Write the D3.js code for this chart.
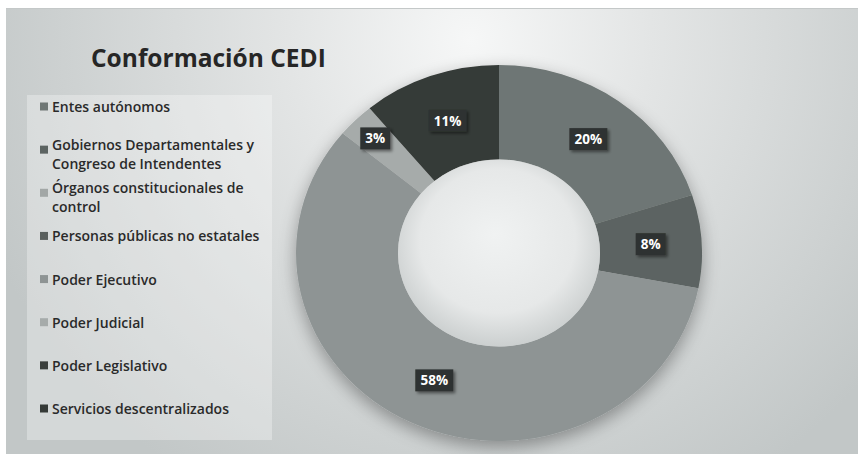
<!DOCTYPE html>
<html>
<head>
<meta charset="utf-8">
<script src="https://cdn.jsdelivr.net/npm/d3@7"></script>
<style>
  body { margin: 0; background: #fff; }
  svg text { font-family: "Open Sans", Lato, sans-serif; }
</style>
</head>
<body>
<svg id="chart" width="858" height="454"></svg>
<script>
// data (clockwise from 12 o'clock)
const categories = [
  "Entes autónomos",
  "Gobiernos Departamentales y|Congreso de Intendentes",
  "Órganos constitucionales de|control",
  "Personas públicas no estatales",
  "Poder Ejecutivo",
  "Poder Judicial",
  "Poder Legislativo",
  "Servicios descentralizados"
];
const shares = [20, 8, 0, 0, 58, 3, 0, 11];
const sliceColors = ["#6e7674", "#5c6462", "#a2a7a6", "#5a605e", "#8e9494", "#a6abaa", "#3a3f3c", "#353a37"];
const chartTitle = "Conformación CEDI";

var svg = d3.select("#chart");
const width = +svg.attr("width");
const height = +svg.attr("height");

// donut geometry (picture is slightly squashed vertically)
const cx = 499, cy = 253;
const rOuter = 203, rInner = 101;
const ySquash = 188 / 203;

var defs = svg.append("defs");

var bg = defs.append("radialGradient").attr("id", "bgGrad")
    .attr("gradientUnits", "userSpaceOnUse")
    .attr("cx", 470).attr("cy", 40).attr("r", 520);
bg.append("stop").attr("offset", "0%").attr("stop-color", "#f6f7f7");
bg.append("stop").attr("offset", "35%").attr("stop-color", "#e3e5e5");
bg.append("stop").attr("offset", "100%").attr("stop-color", "#c2c7c7");

var hole = defs.append("radialGradient").attr("id", "holeGrad")
    .attr("cx", "50%").attr("cy", "45%").attr("r", "55%")
    .attr("fx", "48%").attr("fy", "40%");
hole.append("stop").attr("offset", "0%").attr("stop-color", "#f0f2f2");
hole.append("stop").attr("offset", "70%").attr("stop-color", "#e6e8e8");
hole.append("stop").attr("offset", "100%").attr("stop-color", "#cbcfcf");

var shadow = defs.append("filter").attr("id", "donutShadow")
    .attr("x", "-20%").attr("y", "-20%").attr("width", "140%").attr("height", "140%");
shadow.append("feGaussianBlur").attr("in", "SourceAlpha").attr("stdDeviation", 9);
shadow.append("feOffset").attr("dx", 0).attr("dy", 6).attr("result", "blur");
shadow.append("feComponentTransfer").append("feFuncA").attr("type", "linear").attr("slope", 0.35);
var merge = shadow.append("feMerge");
merge.append("feMergeNode");
merge.append("feMergeNode").attr("in", "SourceGraphic");

var boxShadow = defs.append("filter").attr("id", "boxShadow")
    .attr("x", "-30%").attr("y", "-30%").attr("width", "170%").attr("height", "170%");
boxShadow.append("feDropShadow").attr("dx", 2).attr("dy", 2).attr("stdDeviation", 1.5)
    .attr("flood-color", "#000").attr("flood-opacity", 0.45);

//panel background
svg.append("rect")
    .attr("x", 6).attr("y", 8)
    .attr("width", width - 6).attr("height", height - 8)
    .attr("fill", "url(#bgGrad)");
svg.append("line")
    .attr("x1", 6).attr("x2", width).attr("y1", 8.5).attr("y2", 8.5)
    .attr("stroke", "#c4c8c8");

//title
svg.append("text")
    .attr("x", 91).attr("y", 67)
    .attr("font-size", 24.5).attr("font-weight", 700)
    .attr("fill", "#262626")
    .text(chartTitle);

//legend panel
svg.append("rect")
    .attr("x", 27).attr("y", 95).attr("width", 245).attr("height", 345)
    .attr("fill", "#ffffff").attr("fill-opacity", 0.3);

const legendY = d3.scalePoint()
    .domain(d3.range(categories.length))
    .range([107, 409]);

var legendItems = svg.append("g").selectAll("g")
    .data(categories)
    .enter().append("g")
    .attr("transform", (d, i) => "translate(40," + legendY(i) + ")");

legendItems.append("rect")
    .attr("x", 0).attr("y", -4.5)
    .attr("width", 8).attr("height", 8)
    .attr("fill", (d, i) => sliceColors[i]);

legendItems.each(function (d, i) {
    var lines = d.split("|");
    // two-line entries start a bit higher
    var yOffset = lines.length > 1 ? -5 : 0;
    var t = d3.select(this).append("text")
        .attr("x", 12).attr("y", 5 + yOffset)
        .attr("font-size", 14).attr("font-weight", 600)
        .attr("fill", "#2a2a2a");
    lines.forEach((line, k) => {
        t.append("tspan").attr("x", 12).attr("dy", k === 0 ? 0 : 19).text(line);
    });
});

//donut
const pie = d3.pie().sort(null).value(d => d)(shares);
const arc = d3.arc().innerRadius(rInner).outerRadius(rOuter);

var donut = svg.append("g")
    .attr("transform", "translate(" + cx + "," + cy + ") scale(1," + ySquash + ")");

donut.append("g").attr("filter", "url(#donutShadow)")
    .selectAll("path")
    .data(pie.filter(d => d.value > 0))
    .enter().append("path")
    .attr("d", arc)
    .attr("fill", d => sliceColors[d.index]);

donut.append("circle")
    .attr("r", rInner)
    .attr("fill", "url(#holeGrad)");

//data labels
const labelArc = d3.arc().innerRadius(rInner).outerRadius(rOuter);
const smallLabelArc = d3.arc().innerRadius(175).outerRadius(175);

var labels = svg.append("g").selectAll("g")
    .data(pie.filter(d => d.value > 0))
    .enter().append("g")
    .attr("transform", d => {
        var c = (d.value < 5 ? smallLabelArc : labelArc).centroid(d);
        return "translate(" + (cx + c[0]) + "," + (cy + c[1] * ySquash) + ")";
    });

labels.append("rect")
    .attr("x", d => -(d.value >= 10 ? 19 : 15))
    .attr("y", -11)
    .attr("width", d => d.value >= 10 ? 38 : 30)
    .attr("height", 22)
    .attr("fill", "#2e3330")
    .attr("filter", "url(#boxShadow)");

labels.append("text")
    .attr("text-anchor", "middle")
    .attr("y", 5)
    .attr("font-size", 13.5).attr("font-weight", 700)
    .attr("fill", "#ffffff")
    .text(d => d.value + "%");
</script>
</body>
</html>
